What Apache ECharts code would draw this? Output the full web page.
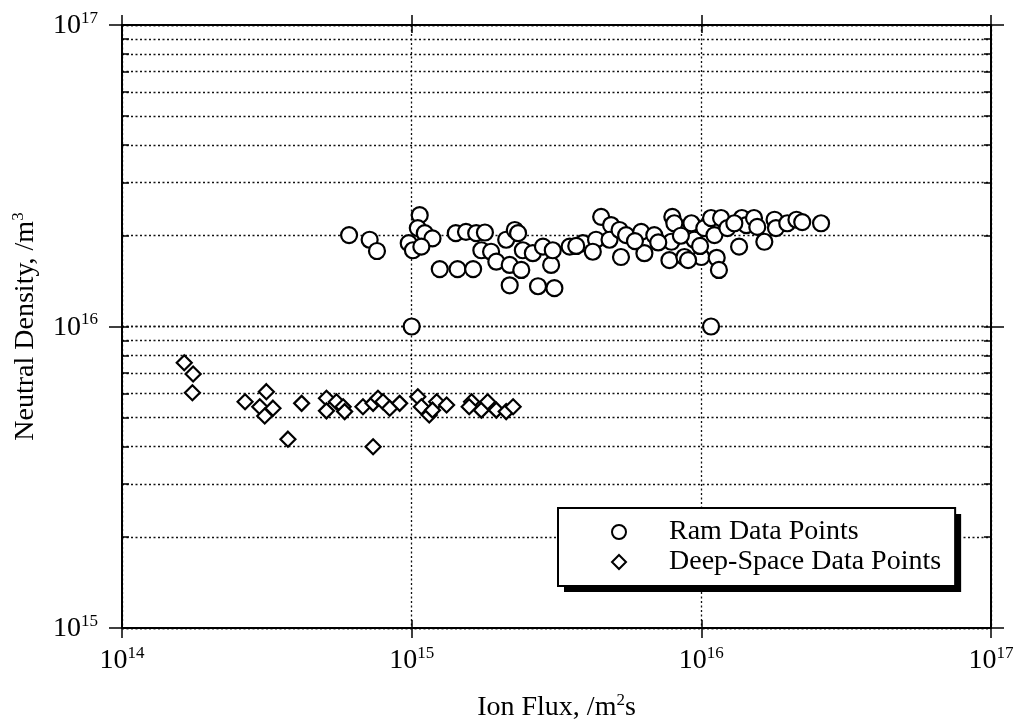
<!DOCTYPE html>
<html>
<head>
<meta charset="utf-8">
<script src="https://cdn.jsdelivr.net/npm/echarts@6/dist/echarts.min.js"></script>
<style>
html,body{margin:0;padding:0;background:#fff;}
#chart{width:1017px;height:721px;}
</style>
</head>
<body>
<div id="chart"></div>
<script>
// ---- data ----
const ramFlux = [
  6.08e14, 7.16e14, 7.59e14, 9.77e14, 1.01e15, 1.066e15, 1.05e15, 1.11e15, 1.18e15, 1.08e15,
  1.25e15, 1.42e15, 1.44e15, 1.54e15, 1.63e15, 1.67e15, 1.74e15, 1.79e15, 1.88e15, 1.96e15,
  2.12e15, 2.18e15, 2.27e15, 2.33e15, 2.42e15, 2.39e15, 2.18e15, 2.62e15, 2.73e15, 3.03e15,
  2.84e15, 3.07e15, 3.11e15, 3.51e15, 3.90e15, 4.33e15, 4.22e15, 4.51e15, 4.88e15, 4.82e15,
  5.22e15, 5.50e15, 5.28e15, 6.20e15, 6.36e15, 6.88e15, 7.94e15, 8.07e15, 7.88e15, 7.76e15,
  8.74e15, 9.24e15, 9.46e15, 1.0e16, 1.024e16, 1.08e16, 1.11e16, 1.13e16, 1.15e16, 1.17e16,
  1.23e16, 1.35e16, 1.38e16, 1.43e16, 1.52e16, 1.56e16, 1.65e16, 1.79e16, 1.81e16, 1.98e16,
  2.13e16, 2.23e16, 2.59e16, 1.0e15, 1.08e16, 7.1e15, 8.5e15, 9.9e15, 9.0e15, 1.3e16,
  5.9e15, 3.7e15
];
const ramDensity = [
  2.01e16, 1.94e16, 1.78e16, 1.89e16, 1.79e16, 2.34e16, 2.12e16, 2.04e16, 1.96e16, 1.84e16,
  1.55e16, 2.04e16, 1.55e16, 2.06e16, 1.55e16, 2.04e16, 1.79e16, 2.05e16, 1.77e16, 1.64e16,
  1.94e16, 1.60e16, 2.09e16, 2.04e16, 1.79e16, 1.54e16, 1.37e16, 1.75e16, 1.36e16, 1.60e16,
  1.84e16, 1.79e16, 1.34e16, 1.84e16, 1.89e16, 1.94e16, 1.77e16, 2.31e16, 2.17e16, 1.94e16,
  2.09e16, 2.01e16, 1.70e16, 2.06e16, 1.75e16, 2.01e16, 2.31e16, 2.20e16, 1.91e16, 1.66e16,
  1.70e16, 2.20e16, 1.94e16, 1.70e16, 2.12e16, 2.29e16, 2.01e16, 1.69e16, 1.54e16, 2.29e16,
  2.12e16, 1.84e16, 2.29e16, 2.17e16, 2.29e16, 2.14e16, 1.91e16, 2.26e16, 2.12e16, 2.20e16,
  2.26e16, 2.22e16, 2.20e16, 1.0e16, 1.0e16, 1.90e16, 2.00e16, 1.85e16, 1.66e16, 2.20e16,
  1.92e16, 1.85e16
];
const deepFlux = [
  1.64e14, 1.76e14, 1.75e14, 2.66e14, 3.15e14, 2.99e14, 3.32e14, 3.11e14, 3.74e14, 4.17e14,
  5.08e14, 5.08e14, 5.50e14, 5.80e14, 5.87e14, 6.79e14, 7.36e14, 7.65e14, 7.96e14, 8.40e14,
  9.09e14, 7.36e14, 1.05e15, 1.08e15, 1.15e15, 1.22e15, 1.32e15, 1.18e15, 1.61e15, 1.58e15,
  1.74e15, 1.83e15, 1.96e15, 2.12e15, 2.24e15
];
const deepDensity = [
  7.58e15, 6.96e15, 6.03e15, 5.63e15, 6.08e15, 5.42e15, 5.36e15, 5.05e15, 4.23e15, 5.56e15,
  5.78e15, 5.25e15, 5.63e15, 5.42e15, 5.22e15, 5.42e15, 5.56e15, 5.78e15, 5.63e15, 5.36e15,
  5.56e15, 3.99e15, 5.85e15, 5.42e15, 5.09e15, 5.63e15, 5.49e15, 5.28e15, 5.63e15, 5.42e15,
  5.28e15, 5.63e15, 5.28e15, 5.22e15, 5.42e15
];
const seriesNames = ['Ram Data Points', 'Deep-Space Data Points'];
const xMajorTicks = [1e14, 1e15, 1e16, 1e17];
const yMajorTicks = [1e15, 1e16, 1e17];
const yAllTicks = [1e15, 2e15, 3e15, 4e15, 5e15, 6e15, 7e15, 8e15, 9e15,
                   1e16, 2e16, 3e16, 4e16, 5e16, 6e16, 7e16, 8e16, 9e16, 1e17];
const xTitle = ['Ion Flux, /m', '2', 's'];
const yTitle = ['Neutral Density, /m', '3'];

// ---- chart ----
const FONT = '"Liberation Serif", "Times New Roman", serif';
const chart = echarts.init(document.getElementById('chart'), null, {renderer: 'canvas'});

const supRich = {
  b: {fontFamily: FONT, fontSize: 28, color: '#000', lineHeight: 30, verticalAlign: 'bottom'},
  s: {fontFamily: FONT, fontSize: 17, color: '#000', lineHeight: 17, verticalAlign: 'top'}
};
function powLabel(v) {
  return '{b|10}{s|' + Math.round(Math.log10(v)) + '}';
}
const dotted = {color: '#111', width: 1.3, type: [2, 2.5]};
const axisLineSolid = {show: true, lineStyle: {color: '#000', width: 2}};

function xAx(pos, inside, withLabel) {
  return {
    type: 'log', logBase: 10, min: 1e14, max: 1e17, position: pos,
    axisLine: inside ? {show: false} : axisLineSolid,
    axisTick: {show: true, inside: inside, length: inside ? 8 : 10,
               customValues: xMajorTicks, lineStyle: {color: '#000', width: 1.5}},
    axisLabel: withLabel ? {show: true, customValues: xMajorTicks, formatter: powLabel,
               rich: supRich, margin: 17} : {show: false},
    splitLine: (withLabel) ? {show: true, lineStyle: dotted} : {show: false},
    minorTick: {show: false}, minorSplitLine: {show: false},
    silent: true
  };
}
function yAx(pos, inside, withLabel, ticks, split) {
  return {
    type: 'log', logBase: 10, min: 1e15, max: 1e17, position: pos,
    axisLine: inside ? {show: false} : axisLineSolid,
    axisTick: {show: true, inside: inside, length: inside ? 7 : 13,
               customValues: ticks, lineStyle: {color: '#000', width: 1.5}},
    axisLabel: withLabel ? {show: true, customValues: yMajorTicks, formatter: powLabel,
               rich: supRich, margin: 24} : {show: false},
    splitLine: split ? {show: true, lineStyle: dotted} : {show: false},
    minorTick: {show: false}, minorSplitLine: {show: false},
    silent: true
  };
}

const titleRich = {
  a: {fontFamily: FONT, fontSize: 28, color: '#000', lineHeight: 30, verticalAlign: 'bottom'},
  s: {fontFamily: FONT, fontSize: 17, color: '#000', lineHeight: 17, verticalAlign: 'top'}
};

const xAxes = [xAx('bottom', false, true), xAx('bottom', true, false), xAx('top', false, false), xAx('top', true, false)];
xAxes[0].name = '{a|' + xTitle[0] + '}{s|' + xTitle[1] + '}{a|' + xTitle[2] + '}';
xAxes[0].nameLocation = 'middle';
xAxes[0].nameGap = 64;
xAxes[0].nameTextStyle = {rich: titleRich};

const yAxes = [yAx('left', false, true, yMajorTicks, true), yAx('left', true, false, yAllTicks, true),
               yAx('right', false, false, yMajorTicks, false), yAx('right', true, false, yAllTicks, false)];
yAxes[0].name = '{a|' + yTitle[0] + '}{s|' + yTitle[1] + '}';
yAxes[0].nameLocation = 'middle';
yAxes[0].nameRotate = 90;
yAxes[0].nameGap = 82;
yAxes[0].nameTextStyle = {rich: titleRich};

const ramData = ramFlux.map((x, i) => [x, ramDensity[i]]);
const deepData = deepFlux.map((x, i) => [x, deepDensity[i]]);

const legendBase = {
  orient: 'vertical',
  data: seriesNames,
  itemWidth: 14, itemHeight: 14, itemGap: 2,
  padding: [10, 14, 10, 53],
  borderRadius: 0,
  selectedMode: false,
  textStyle: {fontFamily: FONT, fontSize: 28, color: '#000', padding: [0, 0, 0, 38]}
};

chart.setOption({
  animation: false,
  backgroundColor: '#fff',
  grid: {left: 122, right: 26, top: 25, bottom: 93, containLabel: false, outerBoundsMode: 'none'},
  xAxis: xAxes,
  yAxis: yAxes,
  legend: [
    // drop shadow block behind the legend box
    Object.assign({}, legendBase, {
      left: 564, top: 514, z: 4,
      backgroundColor: '#000', borderWidth: 0,
      itemStyle: {color: '#000', borderColor: '#000', opacity: 0},
      textStyle: Object.assign({}, legendBase.textStyle, {color: '#000'})
    }),
    // visible legend box
    Object.assign({}, legendBase, {
      left: 558, top: 508, z: 5,
      backgroundColor: '#fff', borderColor: '#000', borderWidth: 2
    })
  ],
  series: [
    {
      name: seriesNames[0], type: 'scatter', xAxisIndex: 0, yAxisIndex: 0,
      symbol: 'circle', symbolSize: 16,
      itemStyle: {color: '#fff', borderColor: '#000', borderWidth: 2.2, opacity: 1},
      emphasis: {disabled: true},
      data: ramData
    },
    {
      name: seriesNames[1], type: 'scatter', xAxisIndex: 0, yAxisIndex: 0,
      symbol: 'diamond', symbolSize: 15,
      itemStyle: {color: '#fff', borderColor: '#000', borderWidth: 2.2, opacity: 1},
      emphasis: {disabled: true},
      data: deepData
    }
  ]
});
</script>
</body>
</html>
